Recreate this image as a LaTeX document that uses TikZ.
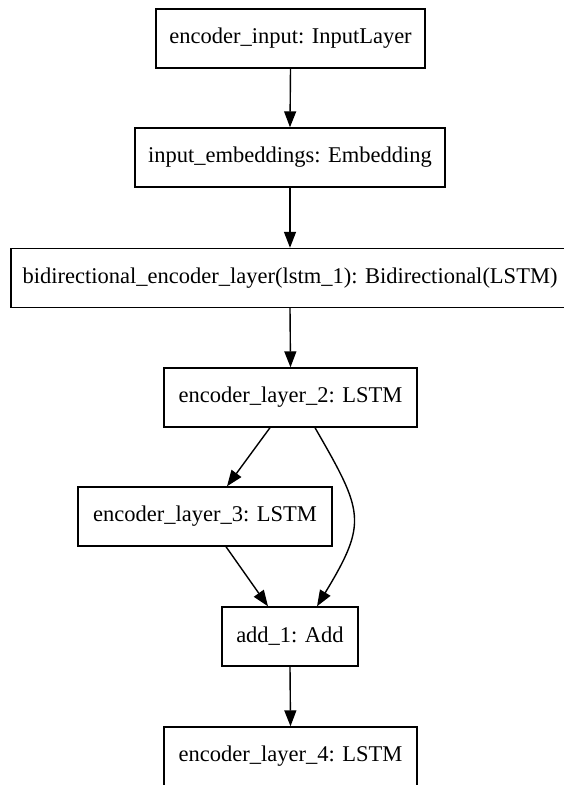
\documentclass[tikz,border=0pt]{standalone}
\usepackage{fontspec}
\setmainfont{Liberation Serif}
\usetikzlibrary{arrows.meta,calc}
\begin{document}
\begin{tikzpicture}[x=1pt,y=-1pt,
  layer/.style={draw=black,line width=1.4pt,fill=white,inner sep=0pt,minimum height=59pt,font=\fontsize{22.5}{26}\selectfont},
  arr/.style={draw=black,line width=1.4pt,-{Triangle[length=16pt,width=12pt,fill=black]}}]
\fill[white] (0,0) rectangle (564,785);
\useasboundingbox (0,0) rectangle (564,785);
\clip (0,0) rectangle (564,785);
\node[layer,minimum width=269pt] (n1) at (290.5,38.5) {encoder\_input: InputLayer};
\node[layer,minimum width=310pt] (n2) at (290,157.5) {input\_embeddings: Embedding};
\node[layer,minimum width=558pt] (n3) at (290,278) {bidirectional\_encoder\_layer(lstm\_1): Bidirectional(LSTM)};
\node[layer,minimum width=253pt] (n4) at (290.5,397.5) {encoder\_layer\_2: LSTM};
\node[layer,minimum width=254pt] (n5) at (205,516.5) {encoder\_layer\_3: LSTM};
\node[layer,minimum width=136pt] (n6) at (290,636.5) {add\_1: Add};
\node[layer,minimum width=253pt] (n7) at (290.5,756.5) {encoder\_layer\_4: LSTM};
\draw[arr] (n1.south) -- (n2.north);
\draw[arr] (n2.south) -- (n3.north);
\draw[arr] (n3.south) -- (n4.north);
\draw[arr] ($(n4.south)+(-20.5,0)$) -- ($(n5.north)+(22,0)$);
\draw[arr] ($(n5.south)+(21,0)$) -- ($(n6.north)+(-22,0)$);
\draw[arr] ($(n4.south)+(24.5,0)$) .. controls (363.5,512) and (368,522) .. ($(n6.north)+(27,0)$);
\draw[arr] (n6.south) -- (n7.north);
\end{tikzpicture}
\end{document}
